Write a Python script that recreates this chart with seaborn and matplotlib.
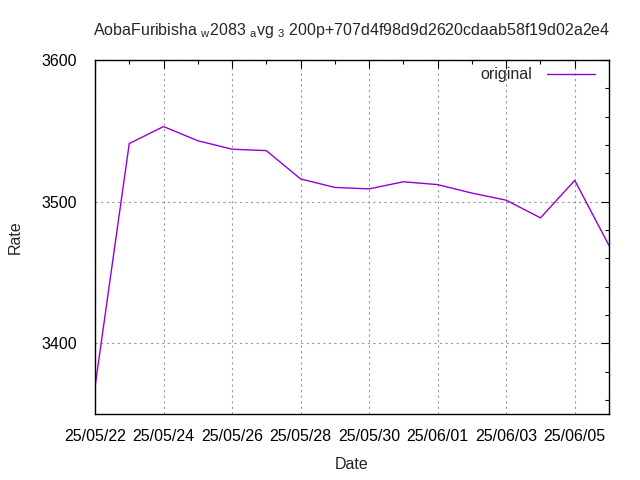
import matplotlib
matplotlib.use("Agg")
import matplotlib.pyplot as plt
import matplotlib.dates as mdates
import pandas as pd
import seaborn as sns
from matplotlib.ticker import MultipleLocator

# Values (one rating per day)
dates = ["2025-05-22", "2025-05-23", "2025-05-24", "2025-05-25", "2025-05-26",
         "2025-05-27", "2025-05-28", "2025-05-29", "2025-05-30", "2025-05-31",
         "2025-06-01", "2025-06-02", "2025-06-03", "2025-06-04", "2025-06-05",
         "2025-06-06"]
rates = [3369, 3541, 3553, 3543, 3537, 3536, 3516, 3510, 3509, 3514,
         3512, 3506, 3501, 3488.5, 3515, 3469]
series_name = "original"
title = (r"AobaFuribisha $_{\rm w}$2083 $_{\rm a}$vg $_{\rm 3}$ "
         r"200p+707d4f98d9d2620cdaab58f19d02a2e4")

df = pd.DataFrame({"Date": pd.to_datetime(dates), "Rate": rates, "series": series_name})

sns.set_theme(style="white")
plt.rcParams["font.family"] = ["Liberation Sans", "DejaVu Sans"]
plt.rcParams["mathtext.fontset"] = "custom"
plt.rcParams["mathtext.rm"] = "Liberation Sans"

fig = plt.figure(figsize=(6.4, 4.8), dpi=100)
ax = fig.add_axes([0.1484, 0.1375, 0.8032, 0.7375])

sns.lineplot(data=df, x="Date", y="Rate", hue="series", palette=["#9400d3"],
             linewidth=1.0, ax=ax)

ax.set_xlim(pd.Timestamp("2025-05-22"), pd.Timestamp("2025-06-06"))
ax.set_ylim(3350, 3600)

ax.xaxis.set_major_locator(mdates.DayLocator(bymonthday=[22, 24, 26, 28, 30, 1, 3, 5]))
ax.xaxis.set_minor_locator(mdates.DayLocator())
ax.xaxis.set_major_formatter(mdates.DateFormatter("%y/%m/%d"))
ax.yaxis.set_major_locator(MultipleLocator(100))
ax.yaxis.set_minor_locator(MultipleLocator(20))

ax.tick_params(which="both", direction="in", top=True, right=True, colors="black",
               labelsize=11.5, width=0.8)
ax.tick_params(which="major", length=6, pad=11)
ax.tick_params(which="minor", length=3)
ax.tick_params(axis="y", pad=13)

for s in ax.spines.values():
    s.set_color("black")
    s.set_linewidth(1.0)

ax.grid(True, which="major", linestyle=(0, (2, 3)), color="#999999", linewidth=0.8)

ax.set_xlabel("Date", fontsize=11.5, labelpad=9)
ax.set_ylabel("Rate", fontsize=11.5, labelpad=13)
ax.set_title(title, fontsize=11.5, pad=18)

leg = ax.legend(loc="upper right", frameon=False, markerfirst=False, fontsize=11.5,
                handlelength=3.0, handletextpad=0.9, bbox_to_anchor=(1.0, 1.02))

fig.savefig("out.png", dpi=100)
